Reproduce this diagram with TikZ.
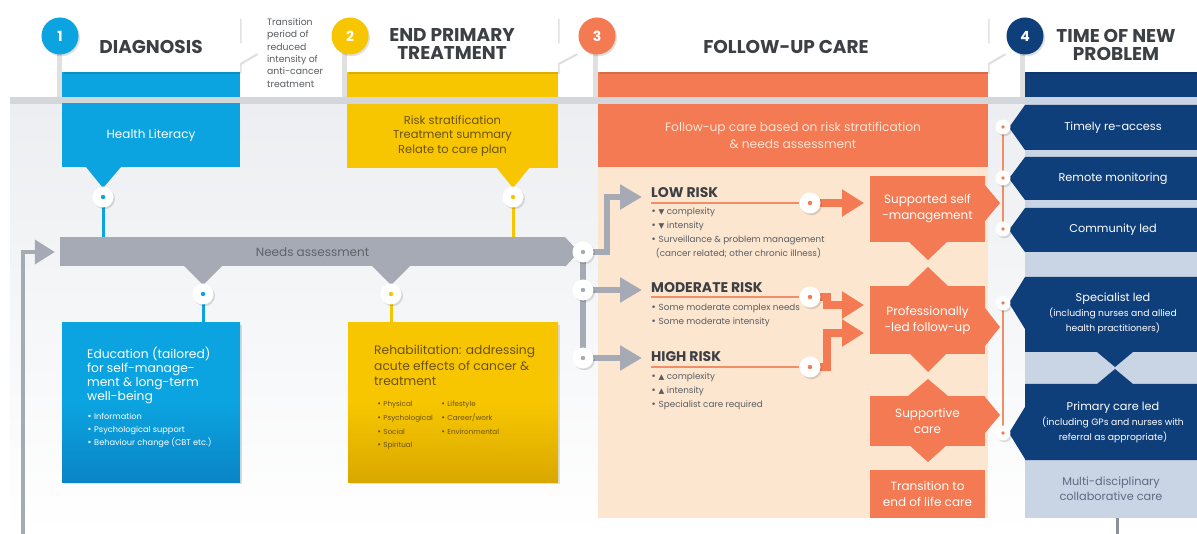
\documentclass[tikz,border=0pt]{standalone}
\usepackage{fontspec}
\setmainfont{Poppins}
\newfontfamily\symf{DejaVu Sans}
\usetikzlibrary{arrows.meta,calc}
\definecolor{cblue}{HTML}{0BA4E0}
\definecolor{cblueD}{HTML}{0A84C6}
\definecolor{cyel}{HTML}{F7C600}
\definecolor{cyelD}{HTML}{D9A800}
\definecolor{corg}{HTML}{F37A52}
\definecolor{corgL}{HTML}{F08E68}
\definecolor{cpeach}{HTML}{FCE6D0}
\definecolor{cnavy}{HTML}{0F3F7B}
\definecolor{clblue}{HTML}{C9D5E5}
\definecolor{cgbar}{HTML}{A5AAB4}
\definecolor{cbg}{HTML}{ECEEF1}
\definecolor{cstripe}{HTML}{D3D6DA}
\definecolor{ctext}{HTML}{3C4044}
\definecolor{cbrown}{HTML}{6B5212}
\definecolor{cgtext}{HTML}{6F747D}
\definecolor{cmd}{HTML}{5D6B82}
\definecolor{cpeachT}{HTML}{FDE4D6}
\newcommand{\mybul}{{\symf •}}
\newcommand{\tridn}{{\symf\fontsize{7.5}{7}\selectfont ▼}}
\newcommand{\triup}{{\symf\fontsize{7.5}{7}\selectfont ▲}}
\pgfdeclarelayer{back}
\pgfdeclarelayer{conn}
\pgfsetlayers{back,conn,main}
\tikzset{
  shd/.style={preaction={fill=black,opacity=.12,transform canvas={xshift=1.5pt,yshift=-1.8pt}}},
  hdr/.style={font=\fontsize{18.5}{17.5}\selectfont\bfseries,text=ctext,align=center,inner sep=0pt},
  numc/.style={circle,minimum size=37pt,inner sep=0pt,text=white,font=\fontsize{14}{14}\selectfont\bfseries,shd},
  pinn/.style={circle,fill=white,minimum size=21pt,inner sep=0pt,shd,
    path picture={\fill[#1] (path picture bounding box.center) circle[radius=2.2pt];}},
  spin/.style={circle,fill=white,minimum size=15pt,inner sep=0pt,shd,
    path picture={\fill[#1] (path picture bounding box.center) circle[radius=1.8pt];}},
  boxtxt/.style={font=\fontsize{12}{16}\selectfont,align=center,inner sep=0pt},
  bigtxt/.style={font=\fontsize{12.3}{14}\selectfont,align=left,inner sep=0pt,anchor=north west},
  smalltxt/.style={font=\fontsize{8.2}{13}\selectfont,align=left,inner sep=0pt,anchor=north west},
  risk/.style={font=\fontsize{14}{14}\selectfont\bfseries,text=ctext,inner sep=0pt,anchor=base west},
  bul/.style={font=\fontsize{8.8}{14}\selectfont,text=ctext!85,align=left,inner sep=0pt,anchor=north west},
  navyt/.style={font=\fontsize{11.3}{15}\selectfont,text=white,align=center,inner sep=0pt},
  navys/.style={font=\fontsize{9.2}{15}\selectfont,text=white,align=center,inner sep=0pt,anchor=north},
  obox/.style={rectangle,fill=corg,minimum width=115pt,inner sep=0pt,text=white,boxtxt},
  garrow/.style={draw=cgbar,line width=6pt,-{Triangle[width=24pt,length=22pt]}},
  oarrow/.style={draw=corg,line width=8pt,-{Triangle[width=26pt,length=22pt]}},
  oline/.style={draw=corgL,line width=1.6pt},
}
\begin{document}
\begin{tikzpicture}[x=1pt,y=-1pt]
\useasboundingbox (0,0) rectangle (1197,534);
\begin{pgfonlayer}{back}
\fill[white] (0,0) rectangle (1197,534);
\shade[top color=cbg,bottom color=white] (10,104) rectangle (1197,534);
% column bands under tabs
\fill[cblue] (62,72) rectangle (240,97);
\fill[cyel] (347,72) rectangle (558,97);
\fill[corg] (598,72) rectangle (988,97);
\fill[cnavy] (1025,72) rectangle (1197,97);
% stripe
\fill[cstripe] (10,97) rectangle (1025,104);
\fill[clblue] (1025,97) rectangle (1197,518);
% stems
\fill[black!12] (57,50) rectangle (62,97);
\fill[black!12] (342,50) rectangle (347,97);
\fill[black!12] (593,50) rectangle (598,97);
\fill[black!12] (1020,50) rectangle (1025,97);
% tabs
\fill[white,shd] (62,17) -- (240,17) -- (240,43) -- (257,53) -- (240,63) -- (240,72) -- (62,72) -- cycle;
\fill[white,shd] (347,17) -- (558,17) -- (558,43) -- (577,53) -- (558,63) -- (558,72) -- (347,72) -- cycle;
\fill[white,shd] (598,17) -- (988,17) -- (988,43) -- (1005,53) -- (988,63) -- (988,72) -- (598,72) -- cycle;
\fill[white,shd] (1025,17) -- (1197,17) -- (1197,72) -- (1025,72) -- cycle;
% peach area
\fill[cpeach] (598,167) rectangle (988,518);
% pointers of upper boxes
\fill[cblue] (86,167) -- (103,188) -- (121,167) -- cycle;
\fill[cyel] (496,167) -- (513,188) -- (530,167) -- cycle;
% navy boxes
\fill[cnavy] (1025,105) -- (1197,105) -- (1197,150) -- (1025,150) -- (1009,127.5) -- cycle;
\fill[cnavy] (1025,157) -- (1197,157) -- (1197,200) -- (1025,200) -- (1009,178.5) -- cycle;
\fill[cnavy] (1025,208) -- (1197,208) -- (1197,252) -- (1025,252) -- (1009,230) -- cycle;
\fill[cnavy] (1025,277) -- (1197,277) -- (1197,352) -- (1133,352) -- (1115,367) -- (1097,352) -- (1025,352) -- (1025,329) -- (1009,303) -- cycle;
\fill[cnavy] (1009,433) -- (1025,407) -- (1025,384) -- (1097,384) -- (1115,369) -- (1133,384) -- (1197,384) -- (1197,460) -- (1025,460) -- (1025,459) -- cycle;
% orange box pointers
\fill[corg] (985,185) -- (1000,203) -- (985,221) -- cycle;
\fill[corg] (908,241) -- (928,260) -- (948,241) -- cycle;
\fill[corg] (908,286) -- (928,267) -- (948,286) -- cycle;
\fill[corg] (985,308) -- (1000,327) -- (985,346) -- cycle;
\fill[corg] (908,352) -- (928,372) -- (948,352) -- cycle;
\fill[corg] (908,396) -- (928,379) -- (948,396) -- cycle;
\fill[corg] (985,397) -- (1000,415) -- (985,433) -- cycle;
\fill[corg] (908,444) -- (928,462) -- (948,444) -- cycle;
\end{pgfonlayer}

% numbered circles
\node[numc,fill=cblue] (n1) at (60,36) {1};
\node[numc,fill=cyel] (n2) at (350,36) {2};
\node[numc,fill=corg] (n3) at (597,36) {3};
\node[numc,fill=cnavy] (n4) at (1025,36) {4};

% headers
\node[hdr] (t1) at (151,47) {DIAGNOSIS};
\node[hdr] (t2) at (452,44) {END PRIMARY\\TREATMENT};
\node[hdr] (t3) at (786,47) {FOLLOW-UP CARE};
\node[hdr] (t4) at (1116,45) {TIME OF NEW\\PROBLEM};
\node[anchor=north west,align=left,inner sep=0pt,text=ctext!85,font=\fontsize{9.3}{12.4}\selectfont] (trans) at (267,18)
  {Transition\\period of\\reduced\\intensity of\\anti-cancer\\treatment};

% upper boxes
\node[rectangle,fill=cblue,minimum width=178pt,minimum height=64pt,inner sep=0pt,text=white,boxtxt] (hl) at (151,135) {Health Literacy};
\node[rectangle,fill=cyel,minimum width=211pt,minimum height=64pt,inner sep=0pt,text=cbrown,boxtxt,font=\fontsize{11.5}{14.7}\selectfont] (rs) at (452.5,136) {Risk stratification\\Treatment summary\\Relate to care plan};
\node[rectangle,fill=corg,minimum width=390pt,minimum height=63pt,inner sep=0pt,text=cpeachT,font=\fontsize{12.2}{17}\selectfont,align=center] (fu) at (793,135.5) {Follow-up care based on risk stratification\\\& needs assessment};

% needs assessment bar
\node[rectangle,fill=cgbar,minimum width=505pt,minimum height=29pt,inner sep=0pt,text=cgtext!85!black,boxtxt] (needs) at (312.5,252) {Needs assessment};
\fill[cgbar] (needs.north east) -- (579,252) -- (needs.south east) -- cycle;
\fill[cgbar] (184,266) -- (203,285) -- (222,266) -- cycle;
\fill[cgbar] (372,266) -- (391,285) -- (410,266) -- cycle;

% lower boxes
\node[rectangle,minimum width=178pt,minimum height=159pt,inner sep=0pt,top color=cblue,bottom color=cblueD,middle color=cblue,shd] (edu) at (151,402.5) {};
\node[bigtxt,text=white] (eduT) at (87,347) {Education (tailored)\\for self-manage-\\ment \& long-term\\well-being};
\node[smalltxt,text=white] (eduB) at (87,413) {\mybul\ Information\\\mybul\ Psychological support\\\mybul\ Behaviour change (CBT etc.)};
\node[rectangle,minimum width=210pt,minimum height=159pt,inner sep=0pt,top color=cyel,bottom color=cyelD,middle color=cyel,shd] (reh) at (453,402.5) {};
\node[bigtxt,text=cbrown,font=\fontsize{12.3}{15.5}\selectfont] (rehT) at (374,345) {Rehabilitation: addressing\\acute effects of cancer \&\\treatment};
\node[smalltxt,text=cbrown,font=\fontsize{7.2}{13.7}\selectfont] (rehB1) at (377,401) {\mybul\ Physical\\\mybul\ Psychological\\\mybul\ Social\\\mybul\ Spiritual};
\node[smalltxt,text=cbrown,font=\fontsize{7.2}{13.7}\selectfont] (rehB2) at (441,401) {\mybul\ Lifestyle\\\mybul\ Career/work\\\mybul\ Environmental};

% risk texts
\node[risk] (lowT) at (651,198) {LOW RISK};
\node[bul] (lowB) at (651,208) {\mybul\ \tridn\ complexity\\\mybul\ \tridn\ intensity\\\mybul\ Surveillance \& problem management\\\ \ (cancer related; other chronic illness)};
\node[risk] (modT) at (651,293) {MODERATE RISK};
\node[bul] (modB) at (651,304) {\mybul\ Some moderate complex needs\\\mybul\ Some moderate intensity};
\node[risk] (higT) at (651,362) {HIGH RISK};
\node[bul] (higB) at (651,373) {\mybul\ \triup\ complexity\\\mybul\ \triup\ intensity\\\mybul\ Specialist care required};

% orange boxes
\node[obox,minimum height=66pt] (ss) at (927.5,209) {Supported self\\-management};
\node[obox,minimum height=68pt] (pl) at (927.5,320) {Professionally\\-led follow-up};
\node[obox,minimum height=50pt] (sc) at (927.5,421) {Supportive\\care};
\node[obox,minimum height=48pt] (tr) at (927.5,494) {Transition to\\end of life care};

% navy texts
\node[navyt] (tra) at (1113,128) {Timely re-access};
\node[navyt] (rmo) at (1113,179) {Remote monitoring};
\node[navyt] (cle) at (1113,230) {Community led};
\node[navyt,anchor=base] (spl) at (1113,302) {Specialist led};
\node[navys] (spls) at (1113,308) {(including nurses and allied\\health practitioners)};
\node[navyt,anchor=base] (pcl) at (1113,411) {Primary care led};
\node[navys] (pcls) at (1113,417) {(including GPs and nurses with\\referral as appropriate)};
\node[rectangle,minimum width=172pt,minimum height=58pt,inner sep=0pt,navyt,text=cmd] (md) at (1111,489) {Multi-disciplinary\\collaborative care};

% pins
\node[pinn=cblue] (pHL) at (103,197) {};
\node[pinn=cyel] (pRS) at (513,197) {};
\node[pinn=cblue] (pE) at (203,294) {};
\node[pinn=cyel] (pR) at (391,294) {};
\node[pinn=cgbar] (pN0) at (583,252) {};
\node[pinn=cgbar] (pN1) at (583,290) {};
\node[pinn=cgbar] (pN2) at (583,358) {};
\node[pinn=corg] (pL) at (810,203) {};
\node[pinn=corg] (pM) at (810,297) {};
\node[pinn=corg] (pH) at (810,367) {};
\node[spin=corg] (pT1) at (1003,127) {};
\node[spin=corg] (pT2) at (1003,178) {};
\node[spin=corg] (pT3) at (1003,229) {};
\node[spin=corg] (pT4) at (1003,303) {};
\node[spin=corg] (pT5) at (1003,433) {};

\coordinate (leftS) at (23,534);
\coordinate (aLow) at (642,197);
\coordinate (aMod) at (642,290);
\coordinate (aHigh) at (642,358);
\coordinate (lowL) at (651,203);
\coordinate (modL) at (651,297);
\coordinate (higL) at (651,367);
\coordinate (oLow) at (864,203);
\coordinate (oMod) at (864,305);
\coordinate (oHigh) at (864,333);
\coordinate (bEnd) at (1117,534);

% connectors
\begin{pgfonlayer}{conn}
\draw[cblue,line width=3pt] (pHL.center) -- (pHL.center |- needs.north);
\draw[cyel,line width=3pt] (pRS.center) -- (pRS.center |- needs.north);
\draw[cblue,line width=3pt] (pE.center) -- (pE.center |- edu.north);
\draw[cyel,line width=3pt] (pR.center) -- (pR.center |- reh.north);
\draw[cgbar,line width=4pt,-{Triangle[width=24pt,length=20pt]},shorten >=5pt] (leftS) |- (needs.west);
\draw[cgbar,line width=6pt] (pN0.center) -- (pN2.center);
\draw[garrow] (pN0.center) -- (607,252) -- (607,197) -- (aLow);
\draw[garrow] (pN1.center) -- (aMod);
\draw[garrow] (pN2.center) -- (aHigh);
\draw[oline] (lowL) -- (pL);
\draw[oline] (modL) -- (pM);
\draw[oline] (higL) -- (pH);
\draw[oarrow] (pL.center) -- (oLow);
\draw[oarrow] (pM.center) -- (827,297) -- (827,305) -- (oMod);
\draw[oarrow] (pH.center) -- (827,367) -- (827,333) -- (oHigh);
\draw[corgL,line width=2.5pt] (pT1.center) -- (pT3.center);
\draw[corgL,line width=2.5pt] (pT4.center) -- (pT5.center);
\draw[cgbar!85!black,line width=3pt] (bEnd |- md.south) -- (bEnd);
\end{pgfonlayer}
\end{tikzpicture}
\end{document}
